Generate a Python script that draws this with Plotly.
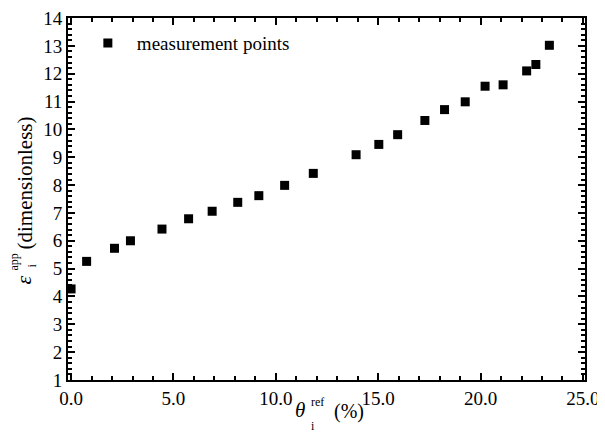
import plotly.graph_objects as go

theta_ref = [0.0, 0.76, 2.12, 2.90, 4.44, 5.74, 6.89, 8.14, 9.17, 10.43, 11.83,
             13.92, 15.03, 15.95, 17.28, 18.24, 19.25, 20.22, 21.10, 22.25, 22.70, 23.36]
eps_app = [4.27, 5.26, 5.73, 6.00, 6.42, 6.79, 7.06, 7.38, 7.62, 7.99, 8.42,
           9.09, 9.46, 9.81, 10.32, 10.71, 10.99, 11.55, 11.60, 12.10, 12.33, 13.02]
x_ticks = [0, 5, 10, 15, 20, 25]
x_tick_labels = ["0.0", "5.0", "10.0", "15.0", "20.0", "25.0"]
y_ticks = list(range(1, 15))

FONT = "Liberation Serif"
FS = 19

fig = go.Figure()
fig.add_trace(go.Scatter(
    x=theta_ref, y=eps_app, mode="markers", name="measurement points",
    marker=dict(symbol="square", size=9, color="black", line=dict(width=0)),
))

axis_common = dict(
    showline=True, linecolor="black", linewidth=2, mirror="allticks",
    ticks="inside", ticklen=7, tickwidth=1.5, tickcolor="black",
    showgrid=False, zeroline=False, automargin=False, ticklabeloverflow="allow",
    tickfont=dict(family=FONT, size=FS, color="black"),
)
fig.update_xaxes(range=[-0.15, 25.1], tickvals=x_ticks, ticktext=x_tick_labels,
                 minor=dict(dtick=1, ticks="inside", ticklen=4, tickwidth=1.5, tickcolor="black", showgrid=False),
                 **axis_common)
fig.update_yaxes(range=[1, 14], tickvals=y_ticks,
                 minor=dict(dtick=0.2, ticks="inside", ticklen=4, tickwidth=1.5, tickcolor="black", showgrid=False),
                 **axis_common)

# plot area in page pixels: left 67.5, bottom 380 (page has an 8px body offset)
PL, PB = 67.5, 380.0


def a(text, px, py, size, anchor="center", angle=0):
    return dict(text=text, x=0, y=0, xref="paper", yref="paper", xanchor=anchor, yanchor="middle",
                xshift=px - PL, yshift=PB - py, showarrow=False, textangle=angle,
                font=dict(family=FONT, size=size, color="black"))


ann = [
    a("<i>θ</i>", 299.5, 410, 21),
    a("ref", 308, 402, 12, "left"),
    a("i", 308, 426, 12, "left"),
    a("(%)", 331, 411, 20, "left"),
    a("<i>ε</i>", 22, 280, 22, angle=-90),
    a("app", 13, 262, 12, angle=-90),
    a("i", 31, 266, 12, angle=-90),
    a("(dimensionless)", 24, 183, 21, angle=-90),
]

fig.update_layout(
    width=605, height=437, autosize=False,
    margin=dict(l=59.5, r=27.5, t=10, b=65, pad=0, autoexpand=False),
    paper_bgcolor="white", plot_bgcolor="white",
    showlegend=True,
    legend=dict(x=0.021, y=0.983, xanchor="left", yanchor="top", bgcolor="rgba(0,0,0,0)",
                font=dict(family=FONT, size=FS, color="black"), itemwidth=48),
    annotations=ann,
    font=dict(family=FONT, color="black"),
)

fig.write_html("out.html", config={"responsive": False})
